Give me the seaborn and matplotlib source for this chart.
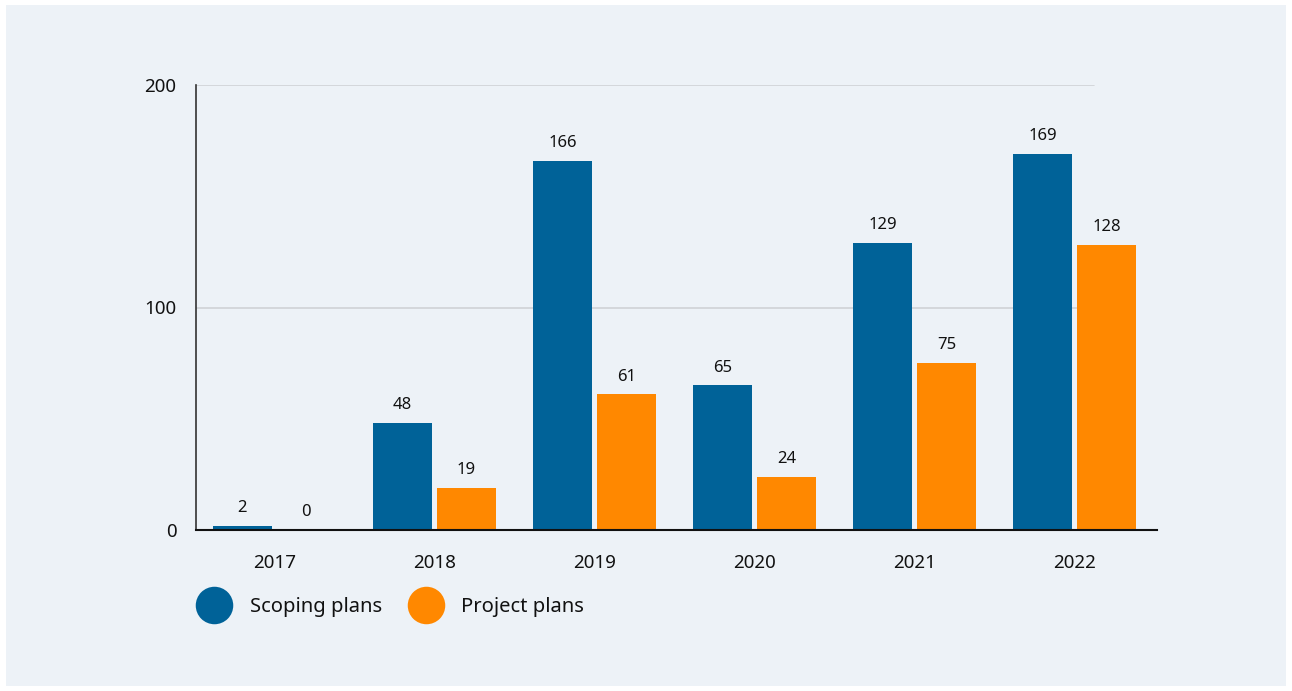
import matplotlib
matplotlib.use("Agg")
import matplotlib.pyplot as plt
from matplotlib.lines import Line2D
from matplotlib.patches import Rectangle
import seaborn as sns
import pandas as pd

years = ["2017", "2018", "2019", "2020", "2021", "2022"]
scoping_plans = [2, 48, 166, 65, 129, 169]
project_plans = [0, 19, 61, 24, 75, 128]
series_names = ["Scoping plans", "Project plans"]
y_ticks = [0, 100, 200]

BLUE = "#006298"
ORANGE = "#FF8800"
PANEL = "#EDF2F7"

df = pd.DataFrame({
    "year": years * 2,
    "value": scoping_plans + project_plans,
    "series": [series_names[0]] * len(years) + [series_names[1]] * len(years),
})

sns.set_theme(style="white")
plt.rcParams["font.family"] = ["Noto Sans", "DejaVu Sans"]

W, H = 1292, 691
fig = plt.figure(figsize=(W / 100, H / 100), dpi=100, facecolor="white")
fig.patches.append(Rectangle((6 / W, 5 / H), 1280 / W, 681 / H,
                             transform=fig.transFigure, facecolor=PANEL,
                             edgecolor="none", zorder=-5))

ax = fig.add_axes([196 / W, (H - 530) / H, (1157 - 196) / W, (530 - 85) / H])
ax.set_facecolor("none")

sns.barplot(data=df, x="year", y="value", hue="series", order=years,
            hue_order=series_names, palette=[BLUE, ORANGE],
            width=0.8, gap=0.09, saturation=1, linewidth=0,
            legend=False, ax=ax, zorder=3)

ax.set_xlim(-0.49, 5.515)
ax.set_ylim(0, 200)
ax.set_yticks(y_ticks)
ax.set_yticklabels([str(t) for t in y_ticks])
ax.set_xlabel("")
ax.set_ylabel("")

# Horizontal gridlines stop short of the right end of the x-axis
grid_end = (5.12 - (-0.49)) / (5.515 - (-0.49))
for t in y_ticks[1:]:
    ax.axhline(t, xmin=0, xmax=grid_end, color="#cfd2d6", lw=1.2, zorder=1)

for s in ["top", "right"]:
    ax.spines[s].set_visible(False)
ax.spines["left"].set_color("#333333")
ax.spines["left"].set_linewidth(1.2)
ax.spines["bottom"].set_color("#111111")
ax.spines["bottom"].set_linewidth(1.5)
ax.spines["bottom"].set_zorder(4)

ax.tick_params(axis="x", length=0, pad=17, labelsize=13.5, labelcolor="#111111")
ax.tick_params(axis="y", length=0, pad=14, labelsize=13.5, labelcolor="#111111")

for container in ax.containers:
    ax.bar_label(container, labels=[f"{int(v)}" for v in container.datavalues],
                 padding=7, fontsize=12, color="#111111")

handles = [Line2D([], [], marker="o", linestyle="none", markersize=27,
                  markerfacecolor=c, markeredgecolor="none")
           for c in (BLUE, ORANGE)]
fig.legend(handles, series_names, loc="center left",
           bbox_to_anchor=(176 / W, (H - 607) / H), ncol=2, frameon=False,
           fontsize=14.5, handletextpad=0.75, columnspacing=1.2,
           handlelength=2.0, labelcolor="#111111")

fig.savefig("out.png", dpi=100, facecolor="white")
